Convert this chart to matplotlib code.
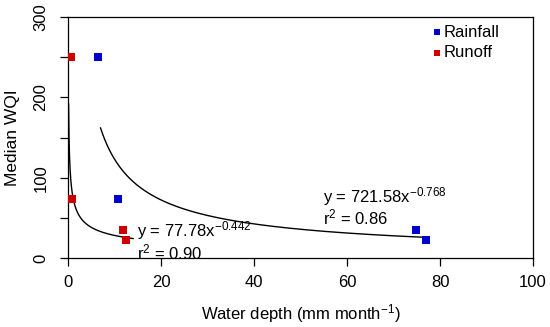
import matplotlib.pyplot as plt
import numpy as np

plt.rcParams['font.family'] = ['Liberation Sans', 'DejaVu Sans']
plt.rcParams['mathtext.fontset'] = 'custom'
plt.rcParams['mathtext.rm'] = 'Liberation Sans'
plt.rcParams['mathtext.it'] = 'Liberation Sans'
plt.rcParams['mathtext.default'] = 'regular'

# Data
rain_x = [6.5, 10.8, 74.9, 76.9]
rain_y = [250, 73, 35, 23]
runoff_x = [0.6, 0.8, 11.8, 12.4]
runoff_y = [250, 73, 35, 22]

# Power fits shown on the chart: y = a * x^b, drawn over [x_from, x_to]
rain_fit = dict(a=721.58, b=-0.768, x_from=7.0, x_to=77.0)
runoff_fit = dict(a=77.78, b=-0.442, x_from=0.13, x_to=14.0)

x_ticks = [0, 20, 40, 60, 80, 100]
y_ticks = [0, 50, 100, 150, 200, 250, 300]
y_labels = ['0', '', '100', '', '200', '', '300']

BLUE = '#0000CD'
RED = '#CD0000'
MINUS = '\u2212'

fig = plt.figure(figsize=(5.5, 3.27), dpi=100)
ax = fig.add_axes([0.1236, 0.211, 0.8455, 0.737])

# fitted power curves
for fit in (rain_fit, runoff_fit):
    xs = np.linspace(fit['x_from'], fit['x_to'], 300)
    ax.plot(xs, fit['a'] * xs ** fit['b'], color='black', lw=1.0, zorder=2)

ax.scatter(rain_x, rain_y, marker='s', s=28, color=BLUE, lw=0, zorder=3, label='Rainfall')
ax.scatter(runoff_x, runoff_y, marker='s', s=28, color=RED, lw=0, zorder=3, label='Runoff')

ax.text(54.9, 77, f"y = {rain_fit['a']}x$^{{{MINUS}{-rain_fit['b']}}}$", fontsize=12, va='center')
ax.text(54.9, 51, r'r$^2$ = 0.86', fontsize=12, va='center')
ax.text(14.9, 34, f"y = {runoff_fit['a']}x$^{{{MINUS}{-runoff_fit['b']}}}$", fontsize=12, va='center')
ax.text(14.9, 7, r'r$^2$ = 0.90', fontsize=12, va='center')

ax.set_xlim(0, 100)
ax.set_ylim(0, 300)
ax.set_xticks(x_ticks)
ax.set_yticks(y_ticks)
ax.set_yticklabels(y_labels, rotation=90, va='center')
ax.tick_params(direction='out', length=6, width=0.9)
ax.tick_params(axis='x', labelsize=12, pad=6)
ax.tick_params(axis='y', labelsize=12, pad=8)
for sp in ax.spines.values():
    sp.set_linewidth(0.9)

ax.set_xlabel(f'Water depth (mm month$^{{{MINUS}1}}$)', fontsize=12, labelpad=9)
ax.set_ylabel('Median WQI', fontsize=12.5, labelpad=10)

ax.legend(loc='upper left', bbox_to_anchor=(0.782, 0.968), frameon=False,
          fontsize=12, handlelength=0.6, handletextpad=0.1, borderpad=0,
          borderaxespad=0, labelspacing=0.32, markerscale=0.7)

fig.savefig('out.png', dpi=100)
